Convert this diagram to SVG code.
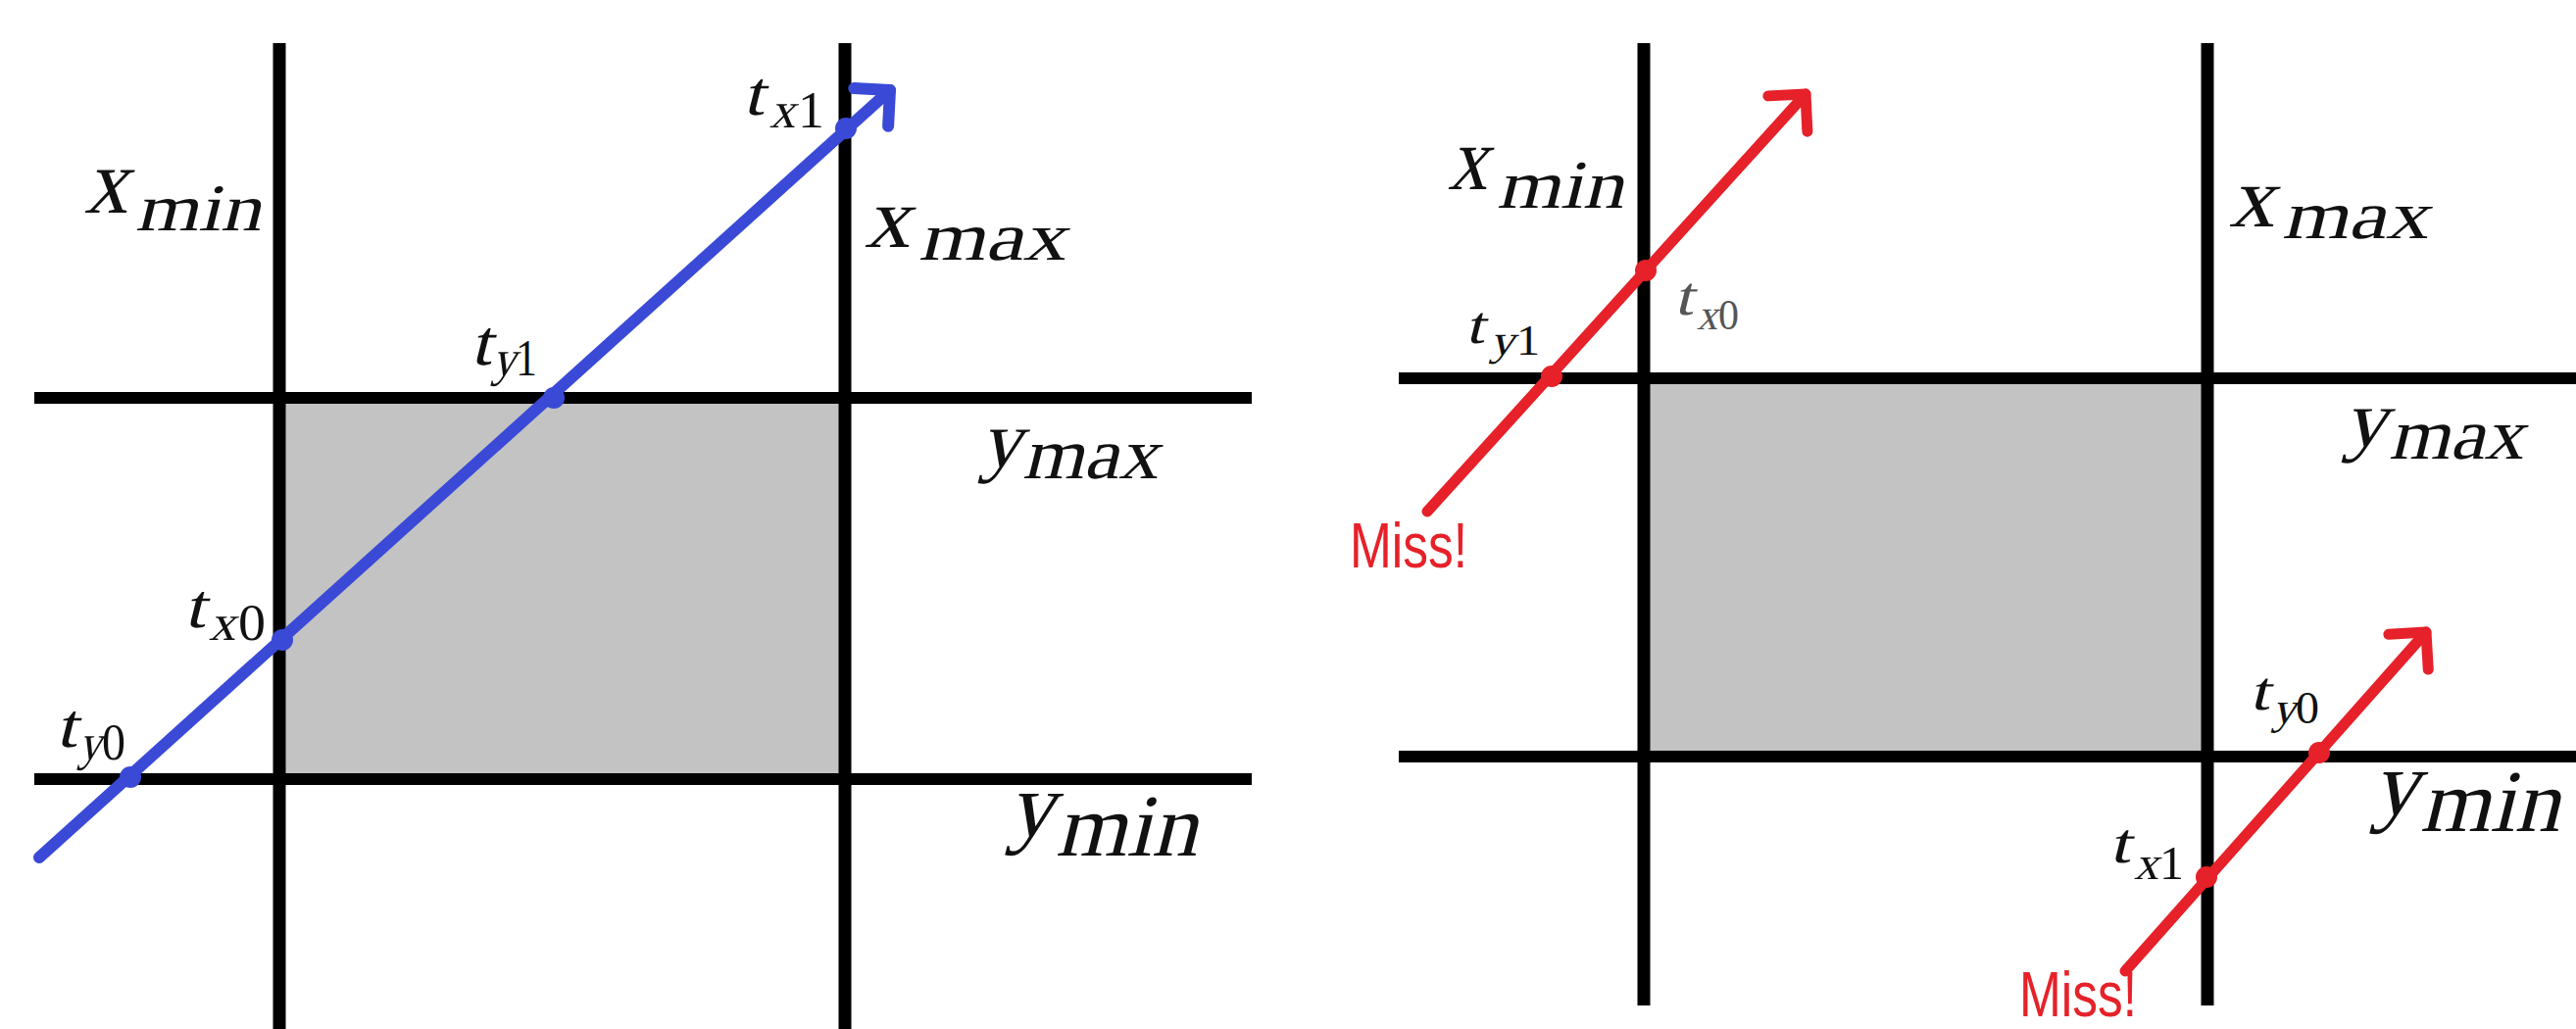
<svg xmlns="http://www.w3.org/2000/svg" width="2628" height="1050" viewBox="0 0 2628 1050">
<style>
.bg{fill:#ffffff}
.box{fill:#c3c3c3}
.vl{stroke:#000;stroke-width:13;fill:none}
.hl{stroke:#000;stroke-width:12;fill:none}
.blue{stroke:#3a4ad6;stroke-width:12;stroke-linecap:round;fill:none}
.red{stroke:#e62129;stroke-width:11;stroke-linecap:round;fill:none}
.bdot{fill:#3a4ad6}
.rdot{fill:#e62129}
.m{font-family:"Liberation Serif","DejaVu Serif",serif;font-style:normal;fill:#111}
.g{fill:#555}
.miss{font-family:"Liberation Sans",Arial,sans-serif;font-size:65px;fill:#e62129}
</style>
<defs>
<marker id="ahB" markerUnits="userSpaceOnUse" orient="auto" refX="0" refY="0" markerWidth="80" markerHeight="80" overflow="visible">
<path d="M-26,-26 L0,0 L-26,26" stroke="#3a4ad6" stroke-width="12" stroke-linecap="round" stroke-linejoin="round" fill="none"/>
</marker>
<marker id="ahR" markerUnits="userSpaceOnUse" orient="auto" refX="0" refY="0" markerWidth="80" markerHeight="80" overflow="visible">
<path d="M-27,-27 L0,0 L-27,27" stroke="#e62129" stroke-width="11" stroke-linecap="round" stroke-linejoin="round" fill="none"/>
</marker>
</defs>
<rect class="bg" x="0" y="0" width="2628" height="1050"/>

<g id="left-panel">
<rect id="left-box" class="box" x="285" y="406" width="577" height="389"/>
<g id="left-grid">
<line class="vl" x1="285" y1="44" x2="285" y2="1050"/>
<line class="vl" x1="862" y1="44" x2="862" y2="1050"/>
<line class="hl" x1="35" y1="406" x2="1277" y2="406"/>
<line class="hl" x1="35" y1="795" x2="1277" y2="795"/>
</g>
</g>

<g id="right-panel">
<rect id="right-box" class="box" x="1677" y="386" width="575" height="386"/>
<g id="right-grid">
<line class="vl" x1="1677" y1="44" x2="1677" y2="1026"/>
<line class="vl" x1="2252" y1="44" x2="2252" y2="1026"/>
<line class="hl" x1="1427" y1="386" x2="2628" y2="386"/>
<line class="hl" x1="1427" y1="772" x2="2628" y2="772"/>
</g>
</g>

<g id="connectors">
<line id="ray-hit" class="blue" x1="40" y1="875" x2="908" y2="92" marker-end="url(#ahB)"/>
<line id="ray-miss-1" class="red" x1="1456" y1="522" x2="1842" y2="96" marker-end="url(#ahR)"/>
<line id="ray-miss-2" class="red" x1="2168" y1="991" x2="2475" y2="645" marker-end="url(#ahR)"/>
</g>

<g id="points">
<circle class="bdot" cx="133" cy="793" r="11"/>
<circle class="bdot" cx="288" cy="653" r="11"/>
<circle class="bdot" cx="565" cy="406" r="11"/>
<circle class="bdot" cx="863" cy="131" r="11"/>
<circle class="rdot" cx="1583" cy="384" r="11"/>
<circle class="rdot" cx="1679" cy="276" r="11"/>
<circle class="rdot" cx="2251" cy="895" r="11"/>
<circle class="rdot" cx="2366" cy="768" r="11"/>
</g>

<g id="labels">
<g id="label-left-xmin">
<text class="m" transform="translate(86,217) skewX(-14)" font-size="95" textLength="44" lengthAdjust="spacingAndGlyphs">x</text>
<text class="m" transform="translate(138,235) skewX(-14)" font-size="68" textLength="128" lengthAdjust="spacingAndGlyphs">min</text>
</g>
<g id="label-left-xmax">
<text class="m" transform="translate(882,252) skewX(-14)" font-size="88" textLength="46" lengthAdjust="spacingAndGlyphs">x</text>
<text class="m" transform="translate(937,265) skewX(-14)" font-size="70" textLength="150" lengthAdjust="spacingAndGlyphs">max</text>
</g>
<g id="label-left-tx1">
<text class="m" transform="translate(758,117) skewX(-14)" font-size="64" textLength="21" lengthAdjust="spacingAndGlyphs">t</text>
<text class="m" transform="translate(785,130) skewX(-14)" font-size="52" textLength="26" lengthAdjust="spacingAndGlyphs">x</text>
<text class="m" x="814" y="130" font-size="52" textLength="27" lengthAdjust="spacingAndGlyphs">1</text>
</g>
<g id="label-left-ty1">
<text class="m" transform="translate(480,372) skewX(-14)" font-size="66" textLength="21" lengthAdjust="spacingAndGlyphs">t</text>
<text class="m" transform="translate(502,383) skewX(-14)" font-size="52" textLength="24" lengthAdjust="spacingAndGlyphs">y</text>
<text class="m" x="526" y="383" font-size="52" textLength="22" lengthAdjust="spacingAndGlyphs">1</text>
</g>
<g id="label-left-tx0">
<text class="m" transform="translate(188,640) skewX(-14)" font-size="64" textLength="21" lengthAdjust="spacingAndGlyphs">t</text>
<text class="m" transform="translate(213,653) skewX(-14)" font-size="52" textLength="27" lengthAdjust="spacingAndGlyphs">x</text>
<text class="m" x="243" y="653" font-size="52" textLength="28" lengthAdjust="spacingAndGlyphs">0</text>
</g>
<g id="label-left-ty0">
<text class="m" transform="translate(57,762) skewX(-14)" font-size="64" textLength="21" lengthAdjust="spacingAndGlyphs">t</text>
<text class="m" transform="translate(80,775) skewX(-14)" font-size="52" textLength="23" lengthAdjust="spacingAndGlyphs">y</text>
<text class="m" x="104" y="775" font-size="52" textLength="24" lengthAdjust="spacingAndGlyphs">0</text>
</g>
<g id="label-left-ymax">
<text class="m" transform="translate(1000,476) skewX(-14)" font-size="82" textLength="42" lengthAdjust="spacingAndGlyphs">y</text>
<text class="m" transform="translate(1043,488) skewX(-14)" font-size="74" textLength="138" lengthAdjust="spacingAndGlyphs">max</text>
</g>
<g id="label-left-ymin">
<text class="m" transform="translate(1028,853) skewX(-14)" font-size="94" textLength="47" lengthAdjust="spacingAndGlyphs">y</text>
<text class="m" transform="translate(1077,873) skewX(-14)" font-size="90" textLength="144" lengthAdjust="spacingAndGlyphs">min</text>
</g>

<g id="label-right-xmin">
<text class="m" transform="translate(1477,193) skewX(-14)" font-size="92" textLength="40" lengthAdjust="spacingAndGlyphs">x</text>
<text class="m" transform="translate(1527,212) skewX(-14)" font-size="70" textLength="129" lengthAdjust="spacingAndGlyphs">min</text>
</g>
<g id="label-right-ty1">
<text class="m" transform="translate(1495,350) skewX(-14)" font-size="54" textLength="19" lengthAdjust="spacingAndGlyphs">t</text>
<text class="m" transform="translate(1520,362) skewX(-14)" font-size="44" textLength="25" lengthAdjust="spacingAndGlyphs">y</text>
<text class="m" x="1547" y="362" font-size="44" textLength="24" lengthAdjust="spacingAndGlyphs">1</text>
</g>
<g id="label-right-tx0">
<text class="m g" transform="translate(1708,321) skewX(-14)" font-size="56" textLength="19" lengthAdjust="spacingAndGlyphs">t</text>
<text class="m g" transform="translate(1731,336) skewX(-14)" font-size="44" textLength="21" lengthAdjust="spacingAndGlyphs">x</text>
<text class="m g" x="1753" y="336" font-size="44" textLength="21" lengthAdjust="spacingAndGlyphs">0</text>
</g>
<g id="label-right-xmax">
<text class="m" transform="translate(2274,231) skewX(-14)" font-size="88" textLength="46" lengthAdjust="spacingAndGlyphs">x</text>
<text class="m" transform="translate(2328,243) skewX(-14)" font-size="70" textLength="149" lengthAdjust="spacingAndGlyphs">max</text>
</g>
<g id="label-right-ymax">
<text class="m" transform="translate(2391,455) skewX(-14)" font-size="82" textLength="44" lengthAdjust="spacingAndGlyphs">y</text>
<text class="m" transform="translate(2437,468) skewX(-14)" font-size="74" textLength="137" lengthAdjust="spacingAndGlyphs">max</text>
</g>
<g id="label-right-ty0">
<text class="m" transform="translate(2295,724) skewX(-14)" font-size="56" textLength="20" lengthAdjust="spacingAndGlyphs">t</text>
<text class="m" transform="translate(2318,738) skewX(-14)" font-size="46" textLength="24" lengthAdjust="spacingAndGlyphs">y</text>
<text class="m" x="2342" y="738" font-size="46" textLength="24" lengthAdjust="spacingAndGlyphs">0</text>
</g>
<g id="label-right-ymin">
<text class="m" transform="translate(2420,831) skewX(-14)" font-size="94" textLength="47" lengthAdjust="spacingAndGlyphs">y</text>
<text class="m" transform="translate(2469,848) skewX(-14)" font-size="90" textLength="142" lengthAdjust="spacingAndGlyphs">min</text>
</g>
<g id="label-right-tx1">
<text class="m" transform="translate(2152,880) skewX(-14)" font-size="58" textLength="21" lengthAdjust="spacingAndGlyphs">t</text>
<text class="m" transform="translate(2177,897) skewX(-14)" font-size="48" textLength="25" lengthAdjust="spacingAndGlyphs">x</text>
<text class="m" x="2203" y="897" font-size="48" textLength="25" lengthAdjust="spacingAndGlyphs">1</text>
</g>
</g>
<g id="label-miss-1"><text class="miss" x="1377" y="579" textLength="120" lengthAdjust="spacingAndGlyphs">Miss!</text></g>
<g id="label-miss-2"><text class="miss" x="2060" y="1037" textLength="120" lengthAdjust="spacingAndGlyphs">Miss!</text></g>
</svg>
